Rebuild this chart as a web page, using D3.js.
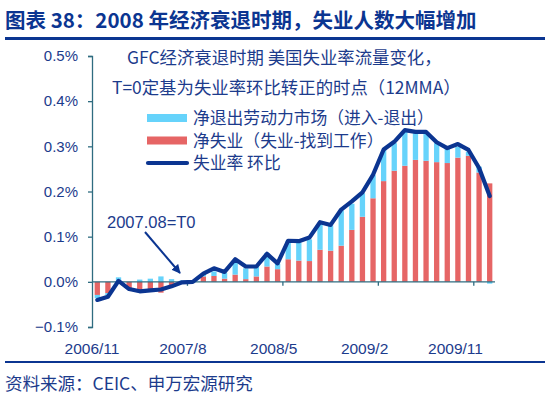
<!DOCTYPE html>
<html>
  <head>
    <meta charset="utf-8">
    <script src="https://d3js.org/d3.v7.min.js"></script>
    <style>
      body { margin: 0; background: #fff; }
      text { font-family: "Noto Sans CJK SC", "Noto Sans", sans-serif; }
    </style>
  </head>
  <body>
    <script type="text/javascript">
      // months, Nov 2006 .. Dec 2009
      var months = ["2006/11","2006/12","2007/1","2007/2","2007/3","2007/4","2007/5","2007/6","2007/7",
                    "2007/8","2007/9","2007/10","2007/11","2007/12","2008/1","2008/2","2008/3","2008/4",
                    "2008/5","2008/6","2008/7","2008/8","2008/9","2008/10","2008/11","2008/12","2009/1",
                    "2009/2","2009/3","2009/4","2009/5","2009/6","2009/7","2009/8","2009/9","2009/10",
                    "2009/11","2009/12"];
      var tickLabels = ["2006/11","2007/8","2008/5","2009/2","2009/11"];
      var yTicks = [-0.1, 0, 0.1, 0.2, 0.3, 0.4, 0.5];

      // net exits from labour force (entry - exit), in %
      var netExit = [-0.007,-0.004,0.010,0.000,0.005,0.007,0.012,0.006,0.003,0.002,0.005,0.010,0.013,
                     0.029,0.024,0.021,0.030,0.012,0.041,0.040,0.048,0.060,0.056,0.078,0.058,0.052,
                     0.052,0.069,0.061,0.076,0.059,0.061,0.042,0.031,0.024,0.009,0.013,-0.004];
      // net unemployment (unemployed - found work), in %
      var netUnemp = [-0.029,-0.025,0.000,-0.016,-0.021,-0.021,-0.024,-0.008,-0.002,0.000,0.012,0.013,
                      0.007,0.016,0.006,0.012,0.034,0.028,0.050,0.047,0.046,0.071,0.069,0.080,0.115,
                      0.144,0.185,0.223,0.246,0.257,0.270,0.268,0.265,0.263,0.275,0.279,0.242,0.218];
      // unemployment rate, month on month, in %
      var rateMoM = [-0.040,-0.033,0.002,-0.016,-0.021,-0.019,-0.017,-0.010,-0.001,0.000,0.018,0.030,
                     0.022,0.050,0.034,0.034,0.062,0.041,0.091,0.090,0.098,0.132,0.126,0.160,0.178,
                     0.198,0.237,0.293,0.310,0.336,0.332,0.332,0.309,0.296,0.305,0.292,0.252,0.190];

      var blue = "#0b3591", textBlue = "#1c3b8c", axisCol = "#2f6c80";
      var cyan = "#66d3fb", red = "#e66565";
      var latin = "Liberation Sans, Arial, sans-serif";

      var svg = d3.select("body").append("svg")
          .attr("width", 550).attr("height", 395);

      // title
      svg.append("text").attr("x", 5).attr("y", 28)
        .style("font-size", "20.5px").style("font-weight", "bold").attr("fill", blue)
        .text("图表 38：2008 年经济衰退时期，失业人数大幅增加");
      svg.append("rect").attr("x", 5).attr("y", 37).attr("width", 540).attr("height", 3).attr("fill", blue);

      var x = d3.scaleBand().domain(months).range([92, 495]).paddingInner(0.5).paddingOuter(0.25);
      var y = d3.scaleLinear().domain([-0.1, 0.5]).range([327, 56]);

      var table = months.map(function (m, i) {
        return { month: m, unemp: netUnemp[i], exit: netExit[i] };
      });
      var stack = d3.stack().keys(["unemp", "exit"]).offset(d3.stackOffsetDiverging)(table);
      var colors = { unemp: red, exit: cyan };

      svg.append("g").selectAll("g").data(stack).join("g")
          .attr("fill", function (d) { return colors[d.key]; })
        .selectAll("rect").data(function (d) { return d; }).join("rect")
          .attr("x", function (d) { return x(d.data.month); })
          .attr("width", x.bandwidth())
          .attr("y", function (d) { return y(Math.max(d[0], d[1])); })
          .attr("height", function (d) { return Math.abs(y(d[0]) - y(d[1])); });

      // y axis
      var yAxis = svg.append("g").attr("transform", "translate(92,0)")
          .call(d3.axisLeft(y).tickValues(yTicks).tickSize(4)
            .tickFormat(function (d) { return d3.format(".1f")(d) + "%"; }));
      yAxis.select(".domain").attr("stroke", axisCol).attr("stroke-width", 1.3);
      yAxis.selectAll(".tick line").attr("stroke", axisCol).attr("stroke-width", 1.3);
      yAxis.selectAll(".tick text").attr("x", -14).attr("fill", textBlue)
        .style("font-size", "15px").style("font-family", latin);

      // x axis on zero line
      var x0 = x.range()[0], step = x.step();
      svg.append("line").attr("x1", x0).attr("x2", x.range()[1])
        .attr("y1", y(0)).attr("y2", y(0)).attr("stroke", axisCol).attr("stroke-width", 1.3);
      tickLabels.forEach(function (t, k) {
        var bx = x(t) - step * 0.25;
        if (k > 0) {
          svg.append("line").attr("x1", bx).attr("x2", bx).attr("y1", y(0)).attr("y2", y(0) + 4)
            .attr("stroke", axisCol).attr("stroke-width", 1.3);
        }
        svg.append("text").attr("x", x0 + (bx - x0) * 0.952).attr("y", 354)
          .attr("text-anchor", "middle").attr("fill", textBlue)
          .style("font-size", "15.5px").style("font-family", latin)
          .text(t);
      });

      // line
      var line = d3.line()
          .x(function (d, i) { return x(months[i]) + x.bandwidth() / 2; })
          .y(function (d) { return y(d); });
      svg.append("path").datum(rateMoM).attr("d", line)
        .attr("fill", "none").attr("stroke", blue).attr("stroke-width", 4.2)
        .attr("stroke-linejoin", "round").attr("stroke-linecap", "round");

      // heading inside plot
      svg.append("text").attr("x", 127).attr("y", 64).attr("fill", textBlue).style("font-size", "17.4px")
        .text("GFC经济衰退时期 美国失业率流量变化，");
      svg.append("text").attr("x", 112).attr("y", 94).attr("fill", textBlue).style("font-size", "17.4px")
        .text("T=0定基为失业率环比转正的时点（12MMA）");

      // legend
      var legend = [
        { label: "净退出劳动力市场（进入-退出）", color: cyan, type: "rect" },
        { label: "净失业（失业-找到工作）", color: red, type: "rect" },
        { label: "失业率 环比", color: blue, type: "line" }
      ];
      legend.forEach(function (l, i) {
        var ly = 118 + i * 22.5;
        if (l.type === "rect") {
          svg.append("rect").attr("x", 147).attr("y", ly - 4).attr("width", 40).attr("height", 8).attr("fill", l.color);
        } else {
          svg.append("line").attr("x1", 148).attr("x2", 187).attr("y1", ly).attr("y2", ly)
            .attr("stroke", l.color).attr("stroke-width", 4.2).attr("stroke-linecap", "round");
        }
        svg.append("text").attr("x", 193).attr("y", ly + 6).attr("fill", textBlue).style("font-size", "16.8px")
          .text(l.label);
      });

      // annotation
      svg.append("text").attr("x", 107).attr("y", 228).attr("fill", textBlue).style("font-size", "16.5px")
        .style("font-family", latin).text("2007.08=T0");
      svg.append("defs").append("marker").attr("id", "ah").attr("viewBox", "0 0 10 10")
          .attr("refX", 9).attr("refY", 5).attr("markerWidth", 4.5).attr("markerHeight", 4.5)
          .attr("orient", "auto")
        .append("path").attr("d", "M0,0L10,5L0,10z").attr("fill", blue);
      svg.append("line").attr("x1", 145).attr("y1", 232).attr("x2", 180).attr("y2", 273)
        .attr("stroke", blue).attr("stroke-width", 2).attr("marker-end", "url(#ah)");

      // bottom rule and source
      svg.append("rect").attr("x", 5).attr("y", 361).attr("width", 540).attr("height", 2).attr("fill", blue);
      svg.append("text").attr("x", 5).attr("y", 390).attr("fill", textBlue).style("font-size", "17.5px")
        .text("资料来源：CEIC、申万宏源研究");
    </script>
  </body>
</html>
